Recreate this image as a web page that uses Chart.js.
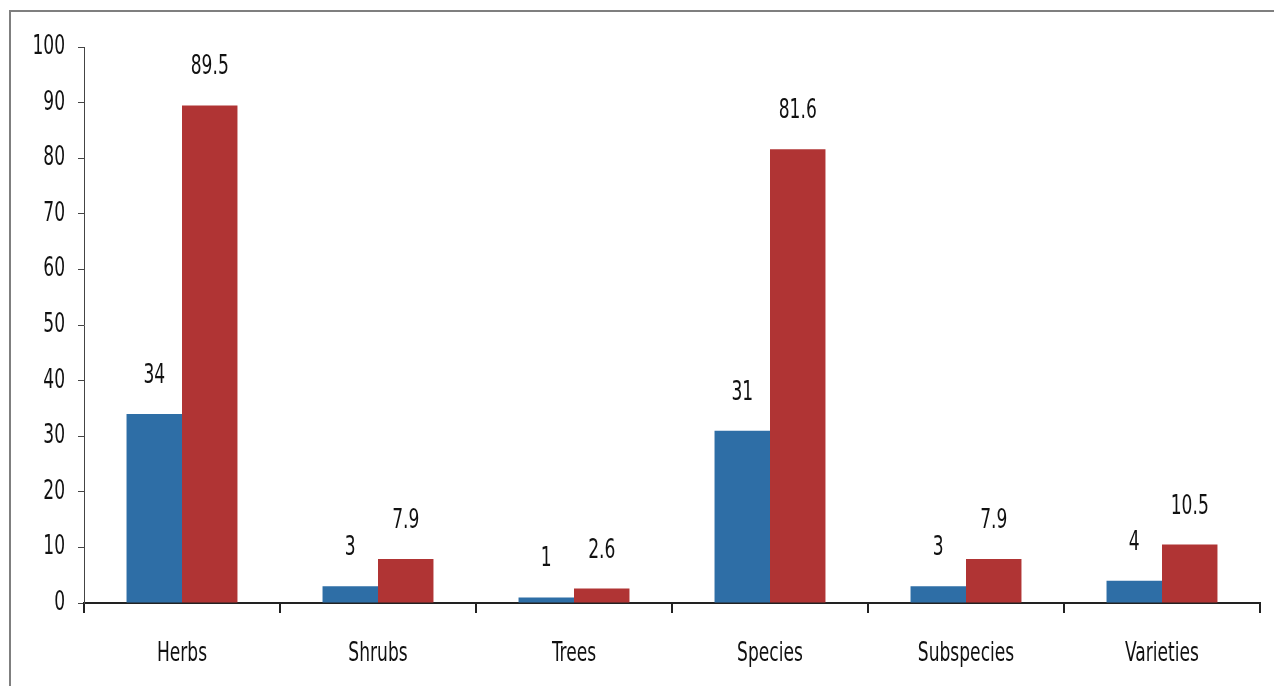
<!DOCTYPE html>
<html>
<head>
<meta charset="utf-8">
<script src="https://cdn.jsdelivr.net/npm/chart.js@4/dist/chart.umd.min.js"></script>
<style>
  html, body { margin: 0; padding: 0; background: #fff; }
  #wrap { width: 1274px; height: 686px; position: relative; }
</style>
</head>
<body>
<div id="wrap"><canvas id="myBarChart"></canvas></div>
<script>
const labels = ["Herbs", "Shrubs", "Trees", "Species", "Subspecies", "Varieties"];
const countValues = [34, 3, 1, 31, 3, 4];
const percentValues = [89.5, 7.9, 2.6, 81.6, 7.9, 10.5];
const yTicks = [0, 10, 20, 30, 40, 50, 60, 70, 80, 90, 100];

const FONT = "'DejaVu Sans Condensed', 'Liberation Sans Narrow', sans-serif";
const FONT_SIZE = 19;
const STRETCH = 1.42;   // tall, narrow lettering

function tallText(c, text, x, y, align) {
    c.save();
    c.translate(x, y);
    c.scale(1, STRETCH);
    c.textAlign = align;
    c.textBaseline = 'middle';
    c.fillText(text, 0, 0);
    c.restore();
}

// thin grey frame on the top and left edges
const frame = {
    id: 'frame',
    beforeDraw(chart) {
        const c = chart.ctx;
        c.save();
        c.strokeStyle = '#7f7f7f';
        c.lineWidth = 2;
        c.beginPath();
        c.moveTo(10, chart.height);
        c.lineTo(10, 11);
        c.lineTo(chart.width, 11);
        c.stroke();
        c.restore();
    }
};

// axis labels and the value printed above each bar
const textLayer = {
    id: 'textLayer',
    afterDraw(chart) {
        const c = chart.ctx;
        const x = chart.scales.x, y = chart.scales.y;
        c.save();
        c.font = FONT_SIZE + 'px ' + FONT;
        c.fillStyle = '#111';
        yTicks.forEach(v => tallText(c, String(v), 65, y.getPixelForValue(v), 'right'));
        labels.forEach((l, i) => tallText(c, l, x.getPixelForValue(i), 654, 'center'));
        chart.data.datasets.forEach((ds, i) => {
            chart.getDatasetMeta(i).data.forEach((bar, j) => {
                tallText(c, String(ds.data[j]), bar.x, bar.y - 38, 'center');
            });
        });
        c.restore();
    }
};

const data = {
    labels: labels,
    datasets: [{
        label: 'Number',
        data: countValues,
        backgroundColor: '#2e6ea6',
        borderWidth: 0
    }, {
        label: 'Percent',
        data: percentValues,
        backgroundColor: '#b03434',
        borderWidth: 0
    }]
};

const config = {
    type: 'bar',
    data: data,
    options: {
        responsive: true,
        maintainAspectRatio: false,
        animation: false,
        categoryPercentage: 0.566,
        barPercentage: 1.0,
        layout: {
            padding: { top: 47, right: 14, left: 0, bottom: 0 }
        },
        scales: {
            x: {
                grid: {
                    display: true,
                    offset: true,
                    drawOnChartArea: false,
                    drawTicks: true,
                    tickLength: 10,
                    color: '#222',
                    lineWidth: 2
                },
                border: { display: true, color: '#222', width: 2 },
                ticks: { display: false },
                afterFit(scale) { scale.height = 83; }
            },
            y: {
                min: 0,
                max: 100,
                afterBuildTicks(scale) {
                    scale.ticks = yTicks.map(v => ({ value: v }));
                },
                grid: {
                    display: true,
                    drawOnChartArea: false,
                    drawTicks: true,
                    tickLength: 6,
                    color: '#444'
                },
                border: { display: true, color: '#444', width: 1 },
                ticks: { display: false },
                afterFit(scale) { scale.width = 84; }
            }
        },
        plugins: {
            legend: { display: false },
            tooltip: { enabled: false }
        }
    },
    plugins: [frame, textLayer]
};

const myBarChart = new Chart(document.getElementById('myBarChart').getContext('2d'), config);
</script>
</body>
</html>
